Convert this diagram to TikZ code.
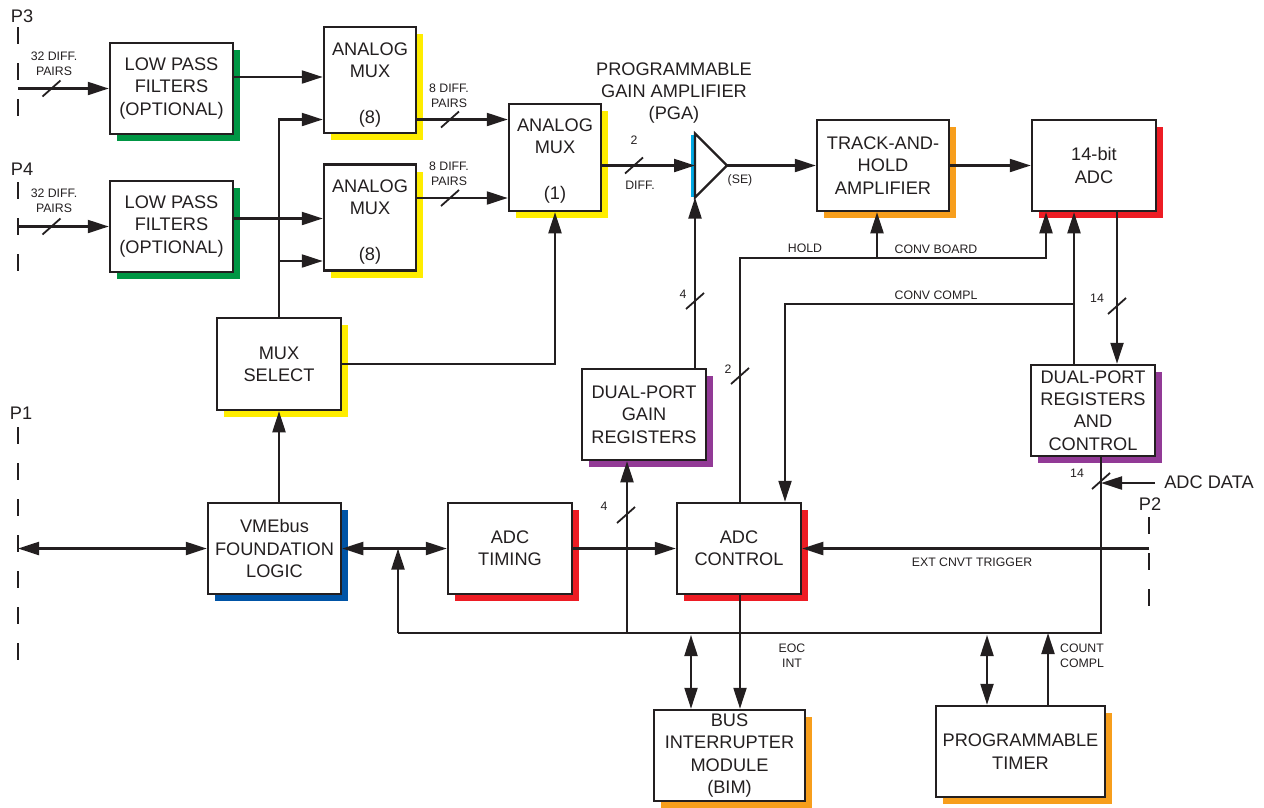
\documentclass[tikz,border=0pt]{standalone}
\usepackage{fontspec}
\setmainfont{Liberation Sans}
\usetikzlibrary{arrows.meta,shadows}
\definecolor{ink}{RGB}{35,31,32}
\definecolor{cgreen}{RGB}{0,150,68}
\definecolor{cyellow}{RGB}{255,237,0}
\definecolor{corange}{RGB}{247,158,28}
\definecolor{cred}{RGB}{237,28,36}
\definecolor{cpurple}{RGB}{146,58,150}
\definecolor{cblue}{RGB}{0,84,166}
\definecolor{ccyan}{RGB}{0,170,230}
\newcommand\bigf{\fontsize{18.2}{22.3}\selectfont}
\newcommand\smf{\fontsize{12.3}{15}\selectfont}
\begin{document}
\begin{tikzpicture}[x=1pt,y=-1pt,
  box/.style={draw=ink, line width=2.5pt, fill=white, inner sep=1pt, align=center, font=\bigf, text=ink},
  shd/.style={general shadow={fill=#1, draw=none, shadow xshift=7pt, shadow yshift=-7pt}},
  txt/.style={font=\bigf, inner sep=0pt, align=center, text=ink},
  lab/.style={font=\smf, inner sep=0pt, align=center, text=ink},
  ln/.style={draw=ink, line width=2.2pt},
  arr/.style={ln, -{Triangle[length=21pt,width=13pt]}},
  dbl/.style={ln, {Triangle[length=21pt,width=13pt]}-{Triangle[length=21pt,width=13pt]}},
  sl/.style={draw=ink, line width=1.8pt},
  port/.style={draw=ink, line width=2pt, dash pattern=on 16.5pt off 19.5pt}
]
\useasboundingbox (0,0) rectangle (1264,807);

% ---------- boxes ----------
\node[box, minimum width=123pt, minimum height=91pt, shd=cgreen] (lpf1) at (171.5,88.5) {LOW PASS\\FILTERS\\(OPTIONAL)};
\node[box, minimum width=123pt, minimum height=91pt, shd=cgreen] (lpf2) at (171.5,226.5) {LOW PASS\\FILTERS\\(OPTIONAL)};
\node[box, minimum width=92pt, minimum height=106pt, shd=cyellow] (mux1) at (370,80) {};
\node[txt] (mux1t) at (370,85) {ANALOG\\MUX\\[24pt](8)};
\node[box, minimum width=92pt, minimum height=106pt, shd=cyellow] (mux2) at (370,217.5) {};
\node[txt] (mux2t) at (370,222) {ANALOG\\MUX\\[24pt](8)};
\node[box, minimum width=92pt, minimum height=107pt, shd=cyellow] (mux3) at (555,157.5) {};
\node[txt] (mux3t) at (555,161) {ANALOG\\MUX\\[24pt](1)};
\node[box, minimum width=132pt, minimum height=91pt, shd=corange] (th) at (883,165.5) {TRACK-AND-\\HOLD\\AMPLIFIER};
\node[box, minimum width=124pt, minimum height=91pt, shd=cred] (adc) at (1094,165.5) {14-bit\\ADC};
\node[box, minimum width=124pt, minimum height=92pt, shd=cyellow] (muxsel) at (279,364) {MUX\\SELECT};
\node[box, minimum width=133pt, minimum height=91pt, shd=cblue] (vme) at (274.5,548.5) {VMEbus\\FOUNDATION\\LOGIC};
\node[box, minimum width=124pt, minimum height=91pt, shd=cred] (timing) at (510,548.5) {ADC\\TIMING};
\node[box, minimum width=124pt, minimum height=91pt, shd=cred] (ctrl) at (739,548.5) {ADC\\CONTROL};
\node[box, minimum width=124pt, minimum height=91pt, shd=cpurple] (gain) at (644,414.5) {DUAL-PORT\\GAIN\\REGISTERS};
\node[box, minimum width=124pt, minimum height=91pt, shd=cpurple] (reg) at (1093,410.5) {DUAL-PORT\\REGISTERS\\AND\\CONTROL};
\node[box, minimum width=151pt, minimum height=91pt, shd=corange] (bim) at (729.5,755.5) {BUS\\INTERRUPTER\\MODULE\\(BIM)};
\node[box, minimum width=169pt, minimum height=91pt, shd=corange] (timer) at (1020.5,751.5) {PROGRAMMABLE\\TIMER};

% ---------- PGA ----------
\coordinate (pgaL) at (695,165.5);
\coordinate (pgaB) at (695,197.5);
\coordinate (pgaT) at (695,133.5);
\coordinate (pgaO) at (727,165.5);
\draw[ccyan, line width=3pt] (692,134.5) -- (692,196.5);
\draw[draw=ink, line width=2.2pt, line join=miter] (pgaT) -- (pgaO) -- (pgaB) -- cycle;
\node[txt] (pgalab) at (674,93) {PROGRAMMABLE\\GAIN AMPLIFIER\\(PGA)};

% ---------- ports ----------
\draw[port] (18,27) -- (18,118);
\draw[port] (18,182) -- (18,273);
\draw[port] (18,427) -- (18,665);
\draw[port] (1149,517) -- (1149,607);
\node[txt] (p3) at (22,16) {P3};
\node[txt] (p4) at (22,169) {P4};
\node[txt] (p1) at (21,413) {P1};
\node[txt] (p2) at (1150,504) {P2};
\coordinate (p3in) at (18,88.5);
\coordinate (p4in) at (18,226.5);
\coordinate (p1io) at (18,548.5);
\coordinate (p2t) at (1149,548.5);

% ---------- input side ----------
\draw[arr] (p3in) -- (lpf1.west);
\draw[sl] (51.5,88.5) +(-9,8) -- +(9,-8);
\node[lab] (l32a) at (54,64) {32 DIFF.\\PAIRS};
\draw[arr] (p4in) -- (lpf2.west);
\draw[sl] (51.5,226.5) +(-9,8) -- +(9,-8);
\node[lab] (l32b) at (54,201) {32 DIFF.\\PAIRS};

\coordinate (yA) at (0,77);
\coordinate (yB) at (0,119.5);
\coordinate (yC) at (0,218.5);
\coordinate (yD) at (0,261);
\coordinate (yE) at (0,198);
\draw[arr] (lpf1.east |- yA) -- (mux1.west |- yA);
\draw[arr] (lpf2.east |- yC) -- (mux2.west |- yC);
\draw[arr] (muxsel.north) |- (mux1.west |- yB);
\draw[arr] (muxsel.north |- yD) -- (mux2.west |- yD);

\draw[arr] (mux1.east |- yB) -- (mux3.west |- yB);
\draw[sl] (450,119.5) +(-9,8) -- +(9,-8);
\node[lab] (l8a) at (449,95.5) {8 DIFF.\\PAIRS};
\draw[arr] (mux2.east |- yE) -- (mux3.west |- yE);
\draw[sl] (450,198) +(-9,8) -- +(9,-8);
\node[lab] (l8b) at (449,174) {8 DIFF.\\PAIRS};

\draw[arr] (muxsel.east) -| (mux3.south);
\draw[arr] (mux3.east |- pgaL) -- (pgaL);
\draw[sl] (634,165.5) +(-9,8) -- +(9,-8);
\node[lab] (l2a) at (634,140) {2};
\node[lab] (ldiff) at (640,185) {DIFF.};
\draw[arr] (pgaO) -- (th.west |- pgaO);
\node[lab] (lse) at (740,180) {(SE)};
\draw[arr] (th.east) -- (adc.west);

% ---------- VME / timing ----------
\draw[arr] (muxsel.south |- vme.north) -- (muxsel.south);
\draw[dbl] (p1io) -- (vme.west);
\draw[dbl] (vme.east) -- (timing.west);
\draw[arr] (timing.east) -- (ctrl.west);

% ---------- bus ----------
\coordinate (busL) at (398,633);
\coordinate (busR) at (1101,633);
\draw[ln] (busL) -- (busR) -- (reg.south -| busR);
\draw[arr] (busL) -- (busL |- vme.east);
\coordinate (gx) at (627,0);
\draw[arr] (busL -| gx) -- (gain.south -| gx);
\draw[sl] (626,515) +(-9,8) -- +(9,-8);
\node[lab] (l4a) at (604,506) {4};
\draw[arr] (gain.north -| pgaB) -- (pgaB);
\draw[sl] (695,301) +(-9,8) -- +(9,-8);
\node[lab] (l4b) at (683,294) {4};

% ---------- hold / conv board ----------
\coordinate (h1) at (740,258);
\coordinate (h2) at (1046,258);
\coordinate (h3) at (877,258);
\draw[arr] (ctrl.north -| h1) -- (h1) -- (h2) -- (adc.south -| h2);
\draw[arr] (h3) -- (th.south -| h3);
\draw[sl] (740,376) +(-9,8) -- +(9,-8);
\node[lab] (l2b) at (728,369) {2};
\node[lab] (lhold) at (805,248) {HOLD};
\node[lab] (lcb) at (936,249) {CONV BOARD};

% ---------- conv compl ----------
\coordinate (c1) at (1074,304);
\coordinate (c2) at (785,304);
\draw[arr] (reg.north -| c1) -- (adc.south -| c1);
\draw[arr] (c1) -- (c2) -- (ctrl.north -| c2);
\node[lab] (lcc) at (936,295) {CONV COMPL};

% ---------- adc data ----------
\coordinate (d1) at (1117,0);
\draw[arr] (adc.south -| d1) -- (reg.north -| d1);
\draw[sl] (1117,306) +(-9,8) -- +(9,-8);
\node[lab] (l14a) at (1097,298) {14};
\coordinate (adcd) at (1155,483);
\draw[arr] (adcd) -- (busR |- adcd);
\node[txt] (ladcd) at (1209,482) {ADC DATA};
\draw[sl] (1101,481) +(-9,8) -- +(9,-8);
\node[lab] (l14b) at (1077,473) {14};

% ---------- ext trigger ----------
\draw[arr] (p2t) -- (ctrl.east);
\node[lab] (lext) at (972,562) {EXT CNVT TRIGGER};

% ---------- bottom ----------
\draw[arr] (ctrl.south -| h1) -- (bim.north -| h1);
\node[lab] (leoc) at (792,656) {EOC\\INT};
\coordinate (b1) at (691,635);
\draw[dbl] (b1) -- (bim.north -| b1);
\coordinate (t1) at (987,635);
\draw[dbl] (t1) -- (timer.north -| t1);
\coordinate (t2) at (1048,633);
\draw[arr] (timer.north -| t2) -- (t2);
\node[lab] (lcnt) at (1082,656) {COUNT\\COMPL};
\end{tikzpicture}
\end{document}
